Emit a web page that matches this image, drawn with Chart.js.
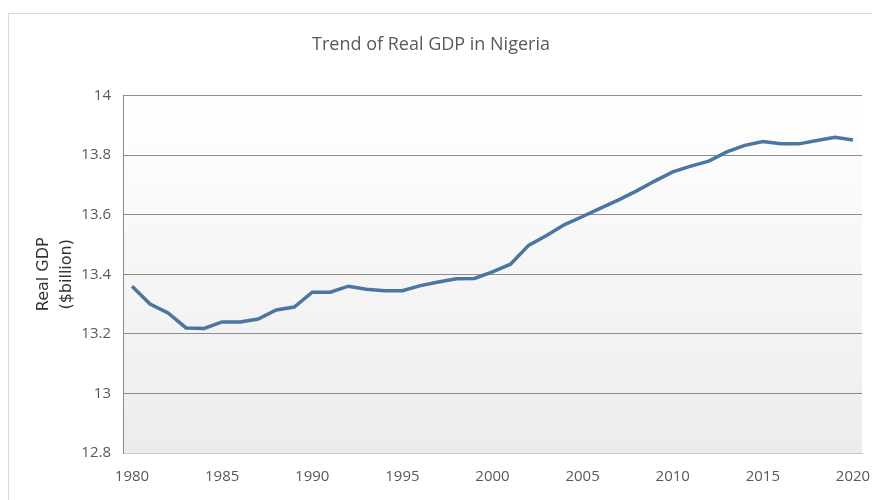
<!DOCTYPE html>
<html>
<head>
<meta charset="utf-8">
<title>Trend of Real GDP in Nigeria</title>
<script src="https://cdn.jsdelivr.net/npm/chart.js@4.4.0/dist/chart.umd.min.js"></script>
<style>
  html, body { margin: 0; padding: 0; background: #fff; }
  #wrap { width: 872px; height: 500px; position: relative; }
</style>
</head>
<body>
<div id="wrap"><canvas id="gdpChart" width="872" height="500"></canvas></div>
<script>
// values
const years = [1980, 1981, 1982, 1983, 1984, 1985, 1986, 1987, 1988, 1989,
               1990, 1991, 1992, 1993, 1994, 1995, 1996, 1997, 1998, 1999,
               2000, 2001, 2002, 2003, 2004, 2005, 2006, 2007, 2008, 2009,
               2010, 2011, 2012, 2013, 2014, 2015, 2016, 2017, 2018, 2019, 2020];
const realGdp = [13.36, 13.30, 13.27, 13.22, 13.218, 13.24, 13.24, 13.25, 13.28, 13.29,
                 13.34, 13.34, 13.36, 13.35, 13.345, 13.345, 13.362, 13.374, 13.385, 13.386,
                 13.408, 13.434, 13.497, 13.53, 13.567, 13.594, 13.622, 13.65, 13.68, 13.713,
                 13.744, 13.763, 13.78, 13.811, 13.833, 13.846, 13.838, 13.838, 13.849, 13.86, 13.851];
const yTicks = [12.8, 13, 13.2, 13.4, 13.6, 13.8, 14];

const narrow = "'Open Sans', sans-serif";

// light frame round the chart and a soft grey gradient in the plot
const backdrop = {
    id: "backdrop",
    beforeDraw(chart) {
        const ctx = chart.ctx;
        const area = chart.chartArea;
        ctx.save();
        ctx.strokeStyle = "#d9d9d9";
        ctx.lineWidth = 1;
        ctx.strokeRect(8.5, 13.5, chart.width + 10, chart.height + 10);
        const grad = ctx.createLinearGradient(0, area.top, 0, area.bottom);
        grad.addColorStop(0, "#ffffff");
        grad.addColorStop(1, "#ececec");
        ctx.fillStyle = grad;
        ctx.fillRect(area.left, area.top, area.right - area.left, area.bottom - area.top);
        ctx.restore();
    }
};

new Chart(document.getElementById("gdpChart"), {
    type: "line",
    data: {
        labels: years,
        datasets: [{
            label: "Real GDP",
            data: realGdp,
            borderColor: "#4a76a0",
            borderWidth: 3.5,
            pointRadius: 0,
            tension: 0,
            fill: false
        }]
    },
    options: {
        responsive: false,
        animation: false,
        devicePixelRatio: 1,
        layout: { padding: { left: 0, right: 10, top: 0, bottom: 0 } },
        plugins: {
            legend: { display: false },
            tooltip: { enabled: false },
            title: {
                display: true,
                text: "Trend of Real GDP in Nigeria",
                color: "#595959",
                font: { family: narrow, size: 18, weight: "normal" },
                padding: { top: 34, bottom: 40 }
            }
        },
        scales: {
            x: {
                type: "category",
                offset: true,
                grid: { display: false, drawTicks: false },
                border: { display: true, color: "#c8c8c8", width: 1 },
                ticks: {
                    autoSkip: false,
                    maxRotation: 0,
                    padding: 15,
                    color: "#595959",
                    font: { family: narrow, size: 15 },
                    callback: function (value, index) {
                        return years[index] % 5 === 0 ? String(years[index]) : null;
                    }
                },
                afterFit: function (scale) {
                    scale.height = 47;
                    scale.paddingRight = 0;
                }
            },
            y: {
                min: 12.8,
                max: 14,
                afterBuildTicks: function (scale) {
                    scale.ticks = yTicks.map(v => ({ value: v }));
                },
                grid: {
                    drawTicks: false,
                    lineWidth: 1,
                    color: function (ctx) {
                        return ctx.index === 0 ? "rgba(0,0,0,0)" : "#8c8c8c";
                    }
                },
                border: { display: true, color: "#8c8c8c", width: 1 },
                ticks: {
                    padding: 12,
                    color: "#595959",
                    font: { family: narrow, size: 15 },
                    callback: function (value) { return String(+value.toFixed(1)); }
                },
                title: {
                    display: true,
                    text: ["Real GDP", "($billion)"],
                    color: "#333333",
                    font: { family: "'DejaVu Sans', sans-serif", size: 16, lineHeight: 1.4 },
                    padding: { top: 33, bottom: 0 }
                },
                afterFit: function (scale) { scale.width = 123; }
            }
        }
    },
    plugins: [backdrop]
});
</script>
</body>
</html>
